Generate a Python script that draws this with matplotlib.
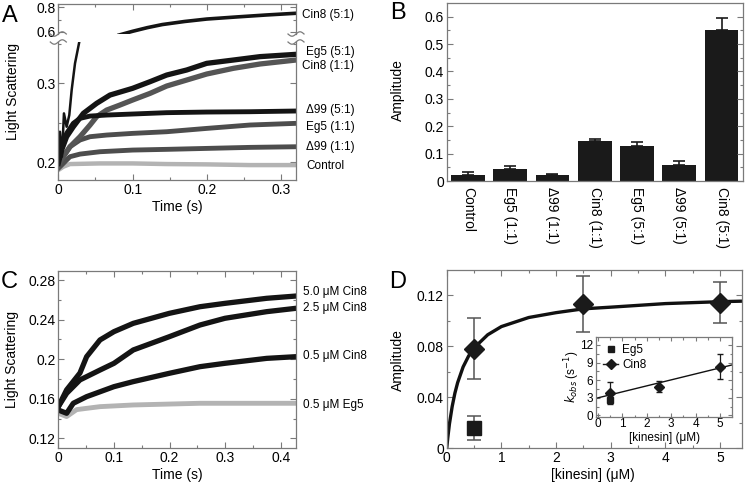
import matplotlib
matplotlib.use('Agg')
import matplotlib.pyplot as plt
import numpy as np
from matplotlib.ticker import MultipleLocator, FuncFormatter
from matplotlib.lines import Line2D

plt.rcParams['font.family'] = ['Liberation Sans', 'DejaVu Sans']

# ---- Panel A: light scattering traces (time in s) ----
a_cin8_51_lo_t = [0, 0.0022, 0.0049, 0.0076, 0.0112, 0.0148, 0.018, 0.0225, 0.0283, 0.031]
a_cin8_51_lo_y = [0.1987, 0.2388, 0.2072, 0.262, 0.2451, 0.2599, 0.2916, 0.3253, 0.3527, 0.365]
a_cin8_51_hi_t = [0.082, 0.1, 0.12, 0.14, 0.17, 0.2, 0.24, 0.28, 0.32]
a_cin8_51_hi_y = [0.575, 0.605, 0.635, 0.66, 0.685, 0.705, 0.722, 0.738, 0.752]
a_eg5_51_t = [0, 0.0045, 0.0112, 0.0202, 0.0337, 0.0516, 0.0696, 0.1, 0.1235, 0.1459, 0.1729, 0.1998, 0.2357, 0.2717, 0.32]
a_eg5_51_y = [0.1987, 0.2156, 0.2325, 0.2451, 0.262, 0.2747, 0.2852, 0.2937, 0.3021, 0.3105, 0.3169, 0.3253, 0.3295, 0.3338, 0.3367]
a_cin8_11_t = [0, 0.0067, 0.0157, 0.0292, 0.0427, 0.0516, 0.0651, 0.0831, 0.1, 0.1235, 0.1459, 0.1729, 0.1998, 0.2357, 0.2717, 0.32]
a_cin8_11_y = [0.1966, 0.2072, 0.2198, 0.2325, 0.2473, 0.2578, 0.2662, 0.2726, 0.2789, 0.2873, 0.2966, 0.3042, 0.3118, 0.319, 0.3245, 0.3295]
a_d99_51_t = [0, 0.0045, 0.0112, 0.0202, 0.0292, 0.0427, 0.0651, 0.1, 0.1459, 0.1998, 0.2582, 0.32]
a_d99_51_y = [0.203, 0.2198, 0.2367, 0.2494, 0.2557, 0.2586, 0.2599, 0.2612, 0.2629, 0.2637, 0.2641, 0.265]
a_eg5_11_t = [0, 0.0067, 0.0157, 0.0292, 0.0427, 0.0651, 0.1, 0.1459, 0.1998, 0.2582, 0.32]
a_eg5_11_y = [0.1966, 0.2072, 0.2198, 0.2283, 0.2325, 0.2346, 0.2367, 0.2388, 0.243, 0.2473, 0.2494]
a_d99_11_t = [0, 0.0067, 0.0157, 0.0292, 0.0561, 0.1, 0.1459, 0.1998, 0.2582, 0.32]
a_d99_11_y = [0.1924, 0.1987, 0.2072, 0.2105, 0.2135, 0.2156, 0.2165, 0.2177, 0.219, 0.2198]
a_ctrl_t = [0, 0.0067, 0.0157, 0.0561, 0.1, 0.1459, 0.1998, 0.2582, 0.32]
a_ctrl_y = [0.1903, 0.1945, 0.1979, 0.1987, 0.1987, 0.1979, 0.1975, 0.1966, 0.1966]

# ---- Panel B: amplitudes ----
b_labels = ['Control', 'Eg5 (1:1)', '\u039499 (1:1)', 'Cin8 (1:1)', 'Eg5 (5:1)', '\u039499 (5:1)', 'Cin8 (5:1)']
b_amp = [0.022, 0.045, 0.022, 0.147, 0.128, 0.060, 0.552]
b_err = [0.010, 0.008, 0.005, 0.006, 0.013, 0.014, 0.045]

# ---- Panel C: concentration series ----
c_t12 = [0, 0.015, 0.0389, 0.0509, 0.0749, 0.1, 0.1347, 0.1994, 0.2545, 0.2994, 0.3743, 0.427]
c_cin8_50 = [0.152, 0.169, 0.186, 0.2025, 0.2194, 0.2278, 0.2362, 0.2463, 0.253, 0.2564, 0.2615, 0.2638]
c_t11 = [0, 0.015, 0.0389, 0.0749, 0.1, 0.1347, 0.1994, 0.2545, 0.2994, 0.3743, 0.427]
c_cin8_25 = [0.152, 0.1655, 0.179, 0.189, 0.1958, 0.2093, 0.2227, 0.2345, 0.2413, 0.248, 0.2514]
c_t05 = [0, 0.015, 0.0269, 0.0509, 0.1, 0.1347, 0.1994, 0.2545, 0.2994, 0.3743, 0.427]
c_cin8_05 = [0.1486, 0.1453, 0.1554, 0.1621, 0.1722, 0.1773, 0.1857, 0.1924, 0.1958, 0.2008, 0.2025]
c_teg5 = [0, 0.015, 0.0329, 0.0749, 0.1347, 0.2545, 0.427]
c_eg5_05 = [0.1453, 0.142, 0.149, 0.152, 0.1537, 0.1554, 0.1554]

# ---- Panel D: amplitude vs kinesin ----
d_cin8_x = [0.5, 2.5, 5.0]
d_cin8_y = [0.078, 0.113, 0.114]
d_cin8_err = [0.024, 0.022, 0.016]
d_eg5_x = [0.5]
d_eg5_y = [0.016]
d_eg5_err = [0.0095]
d_fit_x = [0, 0.02, 0.05, 0.1, 0.15, 0.2, 0.3, 0.4, 0.5, 0.75, 1.0, 1.5, 2.0, 2.5, 3.0, 4.0, 5.0, 5.4]
d_fit_y = [0, 0.0083, 0.0191, 0.0327, 0.0432, 0.0514, 0.0637, 0.0722, 0.0786, 0.0889, 0.0953,
           0.1024, 0.1062, 0.1092, 0.1105, 0.1133, 0.1148, 0.1152]
# inset: kobs
i_cin8_x = [0.5, 2.5, 5.0]
i_cin8_k = [3.8, 4.9, 8.3]
i_cin8_err = [1.8, 0.95, 2.1]
i_eg5_x = [0.5]
i_eg5_k = [2.6]
i_eg5_err = [0.4]
i_fit_x = [-0.08, 5.5]
i_fit_k = [2.9, 8.6]

W, H = 745, 486
fig = plt.figure(figsize=(W / 100, H / 100), dpi=100)
SP = '#7a7a7a'
fmt = FuncFormatter(lambda v, p: '%g' % round(v, 6))


def px(x0, y0, x1, y1):
    return [x0 / W, 1 - y1 / H, (x1 - x0) / W, (y1 - y0) / H]


def style(ax, xmaj, xmin, ymaj, ymin, size=10):
    ax.xaxis.set_major_locator(MultipleLocator(xmaj))
    ax.xaxis.set_minor_locator(MultipleLocator(xmin))
    ax.yaxis.set_major_locator(MultipleLocator(ymaj))
    ax.yaxis.set_minor_locator(MultipleLocator(ymin))
    ax.xaxis.set_major_formatter(fmt)
    ax.yaxis.set_major_formatter(fmt)
    ax.tick_params(which='both', direction='in', top=True, right=True, color=SP,
                   width=0.8, labelsize=size, pad=2)
    ax.tick_params(which='major', length=4)
    ax.tick_params(which='minor', length=2.5)
    for s in ax.spines.values():
        s.set_color(SP)
        s.set_linewidth(0.9)


# ===== Panel A =====
axAt = fig.add_axes(px(58.3, 3.7, 296, 34))
axA = fig.add_axes(px(58.3, 42, 296, 180.5))
for a in (axAt, axA):
    style(a, 0.1, 0.05, 0.1, 0.05)
    a.set_xlim(0, 0.32)
axAt.set_ylim(0.583, 0.83)
axAt.yaxis.set_major_locator(MultipleLocator(0.2))
axAt.yaxis.set_minor_locator(MultipleLocator(0.1))
axAt.spines['bottom'].set_visible(False)
axAt.tick_params(which='both', bottom=False, labelbottom=False)
axA.set_ylim(0.1771, 0.3523)
axA.spines['top'].set_visible(False)
axA.tick_params(which='both', top=False)

axA.plot(a_ctrl_t, a_ctrl_y, color='#b3b3b3', lw=3.2)
axA.plot(a_d99_11_t, a_d99_11_y, color='#4d4d4d', lw=3.5)
axA.plot(a_eg5_11_t, a_eg5_11_y, color='#4d4d4d', lw=3.5)
axA.plot(a_cin8_11_t, a_cin8_11_y, color='#555555', lw=3.8)
axA.plot(a_d99_51_t, a_d99_51_y, color='#141414', lw=3.5)
axA.plot(a_eg5_51_t, a_eg5_51_y, color='#141414', lw=3.8)
axA.plot(a_cin8_51_lo_t, a_cin8_51_lo_y, color='#141414', lw=1.8)
axAt.plot(a_cin8_51_hi_t, a_cin8_51_hi_y, color='#141414', lw=2.6)

# axis-break squiggles
s = np.linspace(-1, 1, 40)
for xc in (58.3, 296):
    for yc in (34, 42):
        fig.add_artist(Line2D((xc + 8 * s) / W, 1 - (yc - 2.2 * np.sin(np.pi * s)) / H,
                              color=SP, lw=0.9, transform=fig.transFigure))

fig.text(13 / W, 1 - 92 / H, 'Light Scattering', rotation=90, ha='center', va='center', fontsize=10)
fig.text(177 / W, 1 - 207 / H, 'Time (s)', ha='center', va='center', fontsize=10)
a_ann = [('Cin8 (5:1)', 301.7, 15), ('Eg5 (5:1)', 306, 52.3), ('Cin8 (1:1)', 301.7, 65.7),
         ('\u039499 (5:1)', 306, 110), ('Eg5 (1:1)', 306, 126.7), ('\u039499 (1:1)', 306, 146.7),
         ('Control', 306, 165.7)]
for txt, x, y in a_ann:
    fig.text(x / W, 1 - y / H, txt, ha='left', va='center', fontsize=8.5)

# ===== Panel B =====
axB = fig.add_axes(px(446.7, 3.3, 742.7, 181))
style(axB, 1, 1, 0.1, 0.05)
pos = np.arange(len(b_amp))
axB.bar(pos, b_amp, width=0.8, color='#1a1a1a')
axB.errorbar(pos, b_amp, yerr=[np.zeros(len(b_err)), b_err], fmt='none', ecolor='#1a1a1a',
             elinewidth=1.2, capsize=4, capthick=1.2)
axB.set_xlim(-0.5, 6.5)
axB.set_ylim(0, 0.649)
axB.set_xticks(pos)
axB.set_xticklabels(b_labels, rotation=-90, fontsize=10)
axB.tick_params(axis='x', which='both', length=0, pad=4)
fig.text(398 / W, 1 - 90 / H, 'Amplitude', rotation=90, ha='center', va='center', fontsize=10)

# ===== Panel C =====
axC = fig.add_axes(px(58.3, 270.7, 296, 448.3))
style(axC, 0.1, 0.05, 0.04, 0.02)
axC.set_xlim(0, 0.427)
axC.set_ylim(0.1099, 0.2894)
axC.plot(c_teg5, c_eg5_05, color='#b3b3b3', lw=3.5)
axC.plot(c_t05, c_cin8_05, color='#141414', lw=3.8)
axC.plot(c_t11, c_cin8_25, color='#141414', lw=3.8)
axC.plot(c_t12, c_cin8_50, color='#141414', lw=3.8)
fig.text(12 / W, 1 - 360 / H, 'Light Scattering', rotation=90, ha='center', va='center', fontsize=10)
fig.text(177 / W, 1 - 475 / H, 'Time (s)', ha='center', va='center', fontsize=10)
c_ann = [('5.0 \u03bcM Cin8', 292.3), ('2.5 \u03bcM Cin8', 308.3), ('0.5 \u03bcM Cin8', 356),
         ('0.5 \u03bcM Eg5', 405)]
for txt, y in c_ann:
    fig.text(303 / W, 1 - y / H, txt, ha='left', va='center', fontsize=8.5)

# ===== Panel D =====
axD = fig.add_axes(px(446.7, 270, 742, 448.3))
style(axD, 1, 0.5, 0.04, 0.02)
axD.set_xlim(0, 5.4)
axD.set_ylim(0, 0.1396)
axD.plot(d_fit_x, d_fit_y, color='#111111', lw=2.4, zorder=2)
axD.errorbar(d_cin8_x, d_cin8_y, yerr=d_cin8_err, fmt='D', color='#1a1a1a', ms=10,
             ecolor='#555555', elinewidth=1.1, capsize=5, capthick=1.1, zorder=3)
axD.errorbar(d_eg5_x, d_eg5_y, yerr=d_eg5_err, fmt='s', color='#1a1a1a', ms=10,
             ecolor='#555555', elinewidth=1.1, capsize=5, capthick=1.1, zorder=3)
fig.text(398 / W, 1 - 360 / H, 'Amplitude', rotation=90, ha='center', va='center', fontsize=10)
fig.text(593 / W, 1 - 475 / H, '[kinesin] (\u03bcM)', ha='center', va='center', fontsize=10)

# inset
axI = fig.add_axes(px(596, 337.3, 732.3, 416.5))
style(axI, 1, 0.5, 3, 1.5, size=8.5)
axI.tick_params(which='major', length=3)
axI.tick_params(which='minor', length=1.8)
axI.tick_params(axis='x', pad=1)
axI.set_xlim(-0.08, 5.5)
axI.set_ylim(-0.2, 13.3)
axI.plot(i_fit_x, i_fit_k, color='#111111', lw=1.0)
axI.errorbar(i_eg5_x, i_eg5_k, yerr=i_eg5_err, fmt='s', color='#1a1a1a', ms=5,
             ecolor='#1a1a1a', elinewidth=0.9, capsize=2)
axI.errorbar(i_cin8_x, i_cin8_k, yerr=i_cin8_err, fmt='D', color='#1a1a1a', ms=5,
             ecolor='#1a1a1a', elinewidth=0.9, capsize=2)
handles = [Line2D([], [], marker='s', ls='none', color='#1a1a1a', ms=5),
           Line2D([], [], marker='D', ls='-', lw=1, color='#1a1a1a', ms=5)]
axI.legend(handles, ['Eg5', 'Cin8'], loc='upper left', frameon=False, fontsize=8.5,
           handlelength=1.3, handletextpad=0.3, borderaxespad=0.2, labelspacing=0.2)
fig.text(572 / W, 1 - 377 / H, r'$k_{obs}$ (s$^{-1}$)', rotation=90, ha='center', va='center', fontsize=8.5)
fig.text(665 / W, 1 - 438 / H, '[kinesin] (\u03bcM)', ha='center', va='center', fontsize=8.5)

# panel letters
for lab, x, y in [('A', 2, 16), ('B', 390, 13), ('C', 1, 282), ('D', 389, 282)]:
    fig.text(x / W, 1 - y / H, lab, ha='left', va='center', fontsize=17)

fig.savefig('out.png', dpi=100)
